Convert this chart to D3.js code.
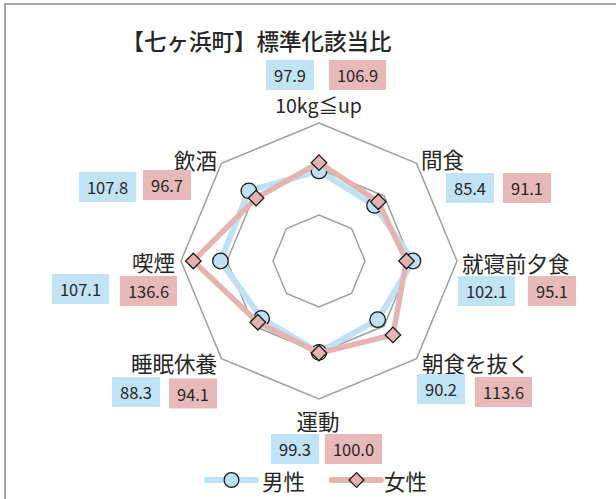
<!DOCTYPE html>
<html>
<head>
<meta charset="utf-8">
<script src="https://cdn.jsdelivr.net/npm/d3@7"></script>
<style>
  body { margin: 0; background: #fff; }
  text { font-family: "Noto Sans CJK JP", "Noto Sans", sans-serif; fill: #262626; }
</style>
</head>
<body>
<svg id="chart" width="616" height="499"></svg>
<script>
// chart data
var title = "【七ヶ浜町】標準化該当比";
var categories = ["10kg≦up", "間食", "就寝前夕食", "朝食を抜く", "運動", "睡眠休養", "喫煙", "飲酒"];
var male   = [97.9, 85.4, 102.1, 90.2, 99.3, 88.3, 107.1, 107.8];
var female = [106.9, 91.1, 95.1, 113.6, 100.0, 94.1, 136.6, 96.7];
var gridLevels = [50, 100, 150];
var seriesNames = ["男性", "女性"];

// label placement, one row per axis (hand tuned like the original sheet)
var labelPos = [
  {anchor: "middle", x: 318.5, y: 104},
  {anchor: "start",  x: 421,   y: 158},
  {anchor: "start",  x: 462,   y: 262},
  {anchor: "start",  x: 422,   y: 362},
  {anchor: "middle", x: 318,   y: 420},
  {anchor: "end",    x: 217,   y: 362},
  {anchor: "end",    x: 175,   y: 261},
  {anchor: "end",    x: 217,   y: 159}
];
var boxPos = [
  {m: [290, 75],    f: [357.5, 75]},
  {m: [470, 188],   f: [527, 188]},
  {m: [486.5, 291], f: [552, 291]},
  {m: [441, 389],   f: [503.5, 392]},
  {m: [295, 449],   f: [353.5, 449]},
  {m: [136, 392],   f: [193, 393.5]},
  {m: [80.5, 289],  f: [148.5, 291]},
  {m: [107.5, 187], f: [167, 185]}
];

var BLUE = "#bfe1f5", PINK = "#e6b3b3";
var BOX_BLUE = "#c1e3f6", BOX_PINK = "#e7b9b8";
var cx = 319, cy = 261;

var svg = d3.select("#chart");

// outer frame (only top/left visible in the crop)
svg.append("rect")
  .attr("x", 5).attr("y", 4).attr("width", 700).attr("height", 600)
  .attr("fill", "none").attr("stroke", "#a6a6a6").attr("stroke-width", 2);

svg.append("text")
  .attr("x", 256.5).attr("y", 40)
  .attr("text-anchor", "middle").attr("dominant-baseline", "central")
  .style("font-size", "22.5px").style("font-weight", 500)
  .text(title);

var r = d3.scaleLinear().domain([0, 150]).range([0, 138]);
var angle = d3.scaleLinear().domain([0, categories.length]).range([0, 2 * Math.PI]);

function pt(i, v) {
  var a = angle(i);
  return [cx + r(v) * Math.sin(a), cy - r(v) * Math.cos(a)];
}

var g = svg.append("g");

// octagon grid
g.selectAll("path.grid").data(gridLevels).enter().append("path")
  .attr("class", "grid")
  .attr("d", function(lv) {
    return d3.line()(categories.map(function(c, i) { return pt(i, lv); })) + "Z";
  })
  .attr("fill", "none").attr("stroke", "#a0a0a0").attr("stroke-width", 1.5);

var line = d3.line();

function drawSeries(vals, color, width, shape) {
  g.append("path")
    .attr("d", line(vals.map(function(v, i) { return pt(i, v); })) + "Z")
    .attr("fill", "none").attr("stroke", color).attr("stroke-width", width)
    .attr("stroke-linejoin", "round");
  var sym = d3.symbol().type(shape === "circle" ? d3.symbolCircle : d3.symbolSquare)
    .size(shape === "circle" ? 190 : 120);
  g.selectAll(null).data(vals).enter().append("path")
    .attr("d", sym)
    .attr("transform", function(v, i) {
      var p = pt(i, v);
      return "translate(" + p[0] + "," + p[1] + ")" + (shape === "circle" ? "" : " rotate(45)");
    })
    .attr("fill", color).attr("stroke", "#1a1a1a").attr("stroke-width", 1.3);
}
drawSeries(male, BLUE, 6, "circle");
drawSeries(female, PINK, 5.5, "diamond");

// category labels
svg.selectAll("text.cat").data(categories).enter().append("text")
  .attr("class", "cat")
  .attr("x", function(d, i) { return labelPos[i].x; })
  .attr("y", function(d, i) { return labelPos[i].y; })
  .attr("text-anchor", function(d, i) { return labelPos[i].anchor; })
  .attr("dominant-baseline", "central")
  .style("font-size", function(d, i) { return i === 0 ? "19.5px" : "21.5px"; })
  .text(function(d) { return d; });

// value boxes
function valueBox(v, c, fill) {
  var t = svg.append("text")
    .attr("x", c[0]).attr("y", c[1])
    .attr("text-anchor", "middle").attr("dominant-baseline", "central")
    .style("font-size", "16.5px")
    .text(d3.format(".1f")(v));
  var w = t.node().getComputedTextLength() + 16;
  svg.insert("rect", function() { return t.node(); })
    .attr("x", c[0] - w / 2).attr("y", c[1] - 15)
    .attr("width", w).attr("height", 30)
    .attr("fill", fill);
}
male.forEach(function(v, i) { valueBox(v, boxPos[i].m, BOX_BLUE); });
female.forEach(function(v, i) { valueBox(v, boxPos[i].f, BOX_PINK); });

// legend
var legend = [
  {name: seriesNames[0], color: BLUE, x0: 207, shape: "circle", tx: 262},
  {name: seriesNames[1], color: PINK, x0: 332, shape: "diamond", tx: 384}
];
var ly = 480;
legend.forEach(function(l) {
  svg.append("line")
    .attr("x1", l.x0).attr("x2", l.x0 + 49).attr("y1", ly).attr("y2", ly)
    .attr("stroke", l.color).attr("stroke-width", 6).attr("stroke-linecap", "round");
  var sym = d3.symbol().type(l.shape === "circle" ? d3.symbolCircle : d3.symbolSquare)
    .size(l.shape === "circle" ? 170 : 110);
  svg.append("path")
    .attr("d", sym)
    .attr("transform", "translate(" + (l.x0 + 24.5) + "," + ly + ")" + (l.shape === "circle" ? "" : " rotate(45)"))
    .attr("fill", l.color).attr("stroke", "#1a1a1a").attr("stroke-width", 1.3);
  svg.append("text")
    .attr("x", l.tx).attr("y", ly)
    .attr("dominant-baseline", "central")
    .style("font-size", "21.5px")
    .text(l.name);
});
</script>
</body>
</html>
